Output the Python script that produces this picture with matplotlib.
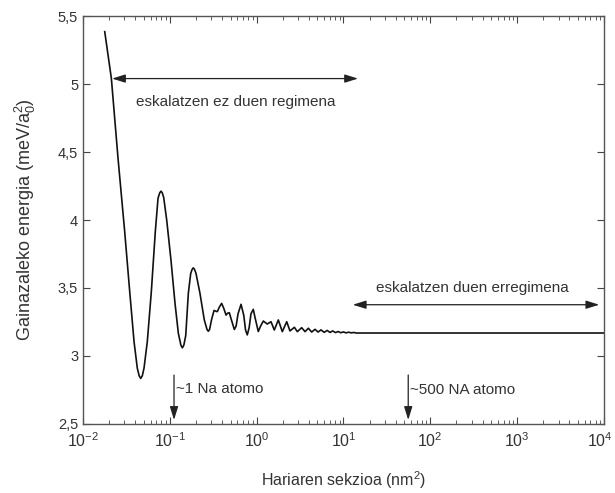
import numpy as np
import matplotlib
matplotlib.use('Agg')
import matplotlib.pyplot as plt
from matplotlib.ticker import FixedLocator, LogLocator, NullFormatter
from matplotlib.transforms import ScaledTranslation

plt.rcParams['font.family'] = ['Liberation Sans', 'DejaVu Sans']
plt.rcParams['mathtext.fontset'] = 'custom'
plt.rcParams['mathtext.rm'] = 'Liberation Sans'
plt.rcParams['mathtext.it'] = 'Liberation Sans'

# curve (wire section nm^2, surface energy meV/a0^2)
sekzioa = [0.01778, 0.0212, 0.0253, 0.0302, 0.0345, 0.0387, 0.0422, 0.0443,
           0.0462, 0.0482, 0.0504, 0.0550, 0.0612, 0.0680, 0.0731, 0.0765,
           0.0791, 0.0818, 0.0850, 0.0920, 0.103, 0.1147, 0.1253, 0.134,
           0.1393, 0.145, 0.1524, 0.1633, 0.174, 0.181, 0.1862, 0.192,
           0.200, 0.2223, 0.2494, 0.268, 0.2773, 0.287, 0.303, 0.323,
           0.337, 0.352, 0.372, 0.395, 0.418, 0.444, 0.464, 0.484,
           0.515, 0.553, 0.580, 0.610, 0.661, 0.710, 0.745, 0.780,
           0.820, 0.860, 0.914, 0.960, 1.044, 1.110, 1.193, 1.325,
           1.462, 1.597, 1.776, 1.974, 2.22, 2.42, 2.72, 2.94,
           3.30, 3.61, 3.94, 4.30, 4.70, 5.1, 5.5, 6.0,
           6.5, 7.0, 7.5, 8.1, 8.7, 9.3, 10.0, 10.7,
           11.5, 12.3, 13.2, 14.0, 15.0, 100.0, 1e3, 1e4]
energia = [5.385, 5.042, 4.454, 3.914, 3.473, 3.105, 2.910, 2.855,
           2.835, 2.855, 2.910, 3.105, 3.473, 3.914, 4.160, 4.200,
           4.212, 4.200, 4.165, 4.000, 3.706, 3.387, 3.167, 3.080,
           3.060, 3.080, 3.150, 3.461, 3.608, 3.638, 3.648, 3.638,
           3.608, 3.461, 3.265, 3.195, 3.182, 3.195, 3.270, 3.335,
           3.330, 3.326, 3.360, 3.387, 3.350, 3.301, 3.315, 3.318,
           3.260, 3.195, 3.220, 3.310, 3.380, 3.300, 3.190, 3.155,
           3.210, 3.310, 3.343, 3.280, 3.180, 3.220, 3.257, 3.235,
           3.252, 3.191, 3.265, 3.179, 3.252, 3.184, 3.211, 3.179,
           3.208, 3.179, 3.204, 3.176, 3.196, 3.176, 3.192, 3.174,
           3.188, 3.173, 3.184, 3.172, 3.180, 3.171, 3.177, 3.170,
           3.175, 3.170, 3.173, 3.169, 3.169, 3.169, 3.169, 3.169]

ytick_vals = [2.5, 3, 3.5, 4, 4.5, 5, 5.5]
ytick_lbls = ['2,5', '3', '3,5', '4', '4,5', '5', '5,5']
xtick_vals = [1e-2, 1e-1, 1e0, 1e1, 1e2, 1e3, 1e4]
xtick_lbls = [r'$10^{-2}$', r'$10^{-1}$', r'$10^{0}$', r'$10^{1}$',
              r'$10^{2}$', r'$10^{3}$', r'$10^{4}$']

txt = '#333333'

fig = plt.figure(figsize=(6.15, 4.93), dpi=100)
ax = fig.add_axes([0.135, 0.140, 0.847, 0.8275])

ax.plot(sekzioa, energia, color='#111111', lw=1.2)

ax.set_xscale('log')
ax.set_xlim(1e-2, 1e4)
ax.set_ylim(2.5, 5.5)
ax.xaxis.set_major_locator(FixedLocator(xtick_vals))
ax.set_xticklabels(xtick_lbls)
ax.xaxis.set_minor_locator(LogLocator(base=10, subs=np.arange(2, 10)))
ax.xaxis.set_minor_formatter(NullFormatter())
ax.set_yticks(ytick_vals)
ax.set_yticklabels(ytick_lbls)
ax.tick_params(which='both', direction='in', top=True, right=True,
               colors='#444444', labelcolor=txt, labelsize=10.5)
ax.tick_params(axis='x', labelsize=11.5, pad=5)
ax.tick_params(which='major', length=5)
ax.tick_params(which='minor', length=3)
for s in ax.spines.values():
    s.set_color('#555555')
    s.set_linewidth(1.0)

# keep the last x label inside the figure
last = ax.get_xticklabels()[-1]
last.set_transform(last.get_transform() + ScaledTranslation(-4 / 100, 0, fig.dpi_scale_trans))

ax.set_xlabel('Hariaren sekzioa (nm$^2$)', color=txt, fontsize=11.5, labelpad=14)
ax.set_ylabel('Gainazaleko energia (meV/a$_0^2$)', color=txt, fontsize=13,
              labelpad=14)

aprops = dict(arrowstyle='<|-|>,head_length=0.8,head_width=0.25', color='#222222',
              lw=0.9, mutation_scale=10, shrinkA=0, shrinkB=0)
ax.annotate('', xy=(0.0216, 5.04), xytext=(14.7, 5.04), arrowprops=aprops)
ax.text(0.0407, 4.87, 'eskalatzen ez duen regimena', color=txt, fontsize=11,
        va='center', ha='left')
ax.annotate('', xy=(12.8, 3.377), xytext=(8830, 3.377), arrowprops=aprops)
ax.text(24, 3.50, 'eskalatzen duen erregimena', color=txt, fontsize=11,
        va='center', ha='left')

dprops = dict(arrowstyle='-|>,head_length=0.8,head_width=0.25', color='#222222',
              lw=0.9, mutation_scale=10, shrinkA=0, shrinkB=0)
ax.annotate('', xy=(0.1117, 2.53), xytext=(0.1117, 2.86), arrowprops=dprops)
ax.text(0.118, 2.757, '~1 Na atomo', color=txt, fontsize=11,
        va='center', ha='left')
ax.annotate('', xy=(55.7, 2.53), xytext=(55.7, 2.86), arrowprops=dprops)
ax.text(59, 2.75, '~500 NA atomo', color=txt, fontsize=11,
        va='center', ha='left')

fig.savefig('out.png', dpi=100)
